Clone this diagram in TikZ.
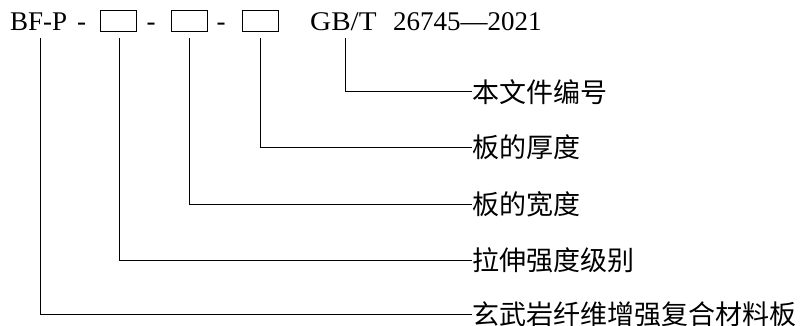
\documentclass[tikz,border=0pt]{standalone}
\usepackage{fontspec}
\setmainfont{Liberation Serif}
\newfontfamily\cjk{Noto Sans CJK SC}
\begin{document}
\begin{tikzpicture}[x=1pt,y=-1pt,
  hdr/.style={font=\fontsize{27}{27}\selectfont, inner sep=0pt, anchor=base west},
  codebox/.style={draw, line width=1pt, minimum width=36pt, minimum height=21pt, inner sep=0pt},
  lab/.style={font=\cjk\fontsize{27}{27}\selectfont, anchor=west, inner sep=0pt},
  conn/.style={line width=1pt}]
\useasboundingbox (0,0) rectangle (805,326);
% header
\node[hdr] (bfp) at (10,30.5) {BF-P};
\node[hdr, anchor=base] (d1) at (81.5,30.5) {-};
\node[codebox] (b1) at (118,21.5) {};
\node[hdr, anchor=base] (d2) at (151,30.5) {-};
\node[codebox] (b2) at (189,21.5) {};
\node[hdr, anchor=base] (d3) at (221,30.5) {-};
\node[codebox] (b3) at (260,21.5) {};
\node[hdr, xscale=1.08] (gbt) at (310,30.5) {GB/T};
\node[hdr] (num) at (393,30.5) {26745—2021};
% line tops
\coordinate (t0) at (40.7,38);
\coordinate (t1) at (119,38);
\coordinate (t2) at (189,38);
\coordinate (t3) at (260,38);
\coordinate (t4) at (345,38);
% labels
\node[lab] (l4) at (472,91.7) {本文件编号};
\node[lab] (l3) at (472,147) {板的厚度};
\node[lab] (l2) at (472,204) {板的宽度};
\node[lab] (l1) at (472,260) {拉伸强度级别};
\node[lab] (l0) at (472,314) {玄武岩纤维增强复合材料板};
% connectors
\draw[conn] (t4) |- (l4.west);
\draw[conn] (t3) |- (l3.west);
\draw[conn] (t2) |- (l2.west);
\draw[conn] (t1) |- (l1.west);
\draw[conn] (t0) |- (l0.west);
\end{tikzpicture}
\end{document}
